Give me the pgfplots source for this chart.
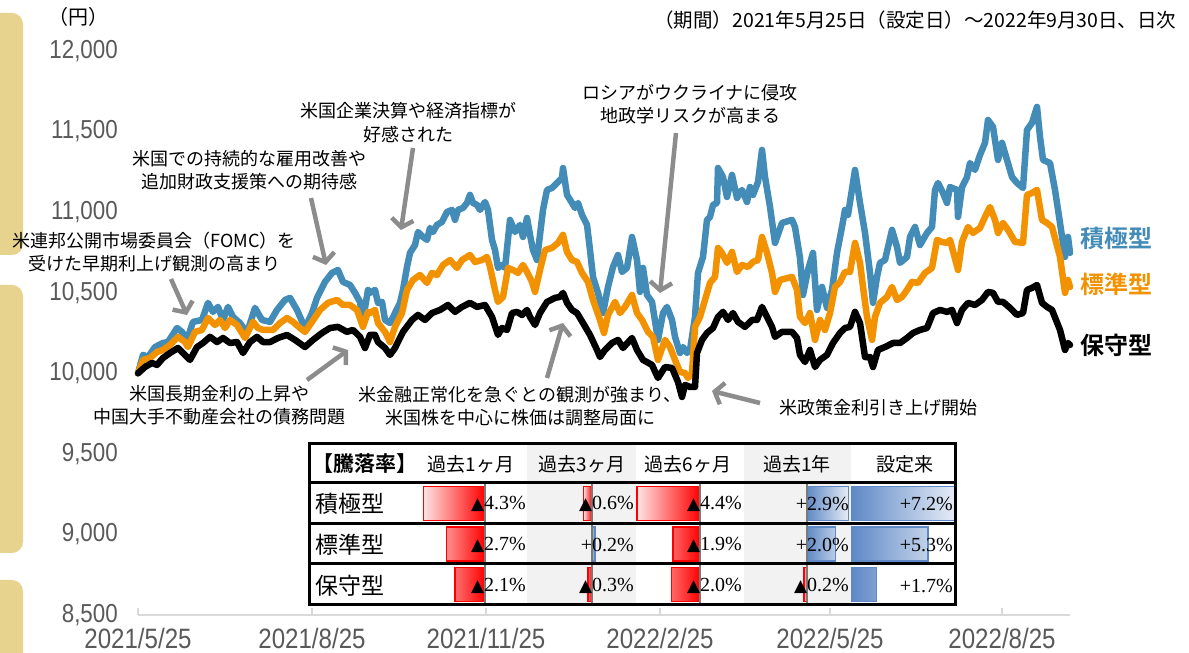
\documentclass[border=0pt]{standalone}
\usepackage{pgfplots}
\pgfplotsset{compat=1.18}
\usetikzlibrary{arrows.meta}
\usepackage{fontspec}
\setmainfont{Noto Sans CJK JP}[BoldFont={Noto Sans CJK JP Bold}]
\newfontfamily\tickfont[FakeStretch=0.86]{Liberation Sans}
\newfontfamily\numfont{Liberation Serif}
\newfontfamily\dejavu{DejaVu Sans}
\definecolor{cblue}{HTML}{438CB8}
\definecolor{corange}{HTML}{F39200}
\definecolor{arrowgray}{HTML}{8C8C8C}
\definecolor{tickgray}{HTML}{595959}
\definecolor{axisgray}{HTML}{D9D9D9}
\definecolor{tan}{HTML}{E8D38E}
\definecolor{bggray}{HTML}{F2F2F2}
\definecolor{zerogray}{HTML}{7A7A7A}
\definecolor{barblue}{HTML}{5F89C6}
\definecolor{barbluel}{HTML}{E6ECF6}
\definecolor{barred}{HTML}{FF0000}
\definecolor{barredl}{HTML}{FFE3E3}
\newcommand{\fs}[1]{\fontsize{#1}{#1}\selectfont}
\newcommand{\tri}{{\dejavu\fs{17}▲}}
\pgfplotsset{
  tcol/.style={anchor=south west, scale only axis, height=122pt, ymin=0.5, ymax=3.5, hide axis, clip=false},
  redbar/.style={xbar, bar width=34pt, draw=barred, line width=1.6pt, left color=barredl, right color=barred},
  bluebar/.style={xbar, bar width=34pt, draw=barblue, line width=1.6pt, left color=barblue, right color=barbluel},
}
\begin{document}
\begin{tikzpicture}
\path[use as bounding box] (0pt,0pt) rectangle (1189pt,653pt);
\begin{scope}[x=1pt,y=-1pt,shift={(0pt,653pt)}]
  \fill[tan, rounded corners=11pt] (-30,13) rectangle (23,255);
  \fill[tan, rounded corners=11pt] (-30,285) rectangle (23,553);
  \fill[tan, rounded corners=11pt] (-30,580) rectangle (23,700);
  \fill[bggray] (527,444) rectangle (636,605);
  \fill[bggray] (744,444) rectangle (851,605);
\end{scope}

\begin{axis}[
  at={(138pt,38pt)}, anchor=south west, scale only axis,
  width=932pt, height=564pt,
  xmin=138, xmax=1070, ymin=8500, ymax=12000,
  scaled y ticks=false, scaled x ticks=false,
  axis x line*=bottom, axis y line*=left,
  x axis line style={draw=axisgray, line width=2pt, -},
  y axis line style={draw=none, -},
  xtick={138,312,486,660,830,1002},
  xticklabels={2021/5/25,2021/8/25,2021/11/25,2022/2/25,2022/5/25,2022/8/25},
  ytick={8500,9000,9500,10000,10500,11000,11500,12000},
  yticklabels={{8,500},{9,000},{9,500},{10,000},{10,500},{11,000},{11,500},{12,000}},
  xtick style={draw=axisgray, line width=1.5pt},
  ytick style={draw=none},
  major tick length=7pt, xtick align=inside,
  xticklabel style={font=\tickfont\fs{28}, text=tickgray, inner sep=1pt, yshift=-12pt},
  yticklabel style={font=\tickfont\fs{26}, text=tickgray, inner sep=1pt, xshift=-19pt},
  clip=false,
]
\addplot[cblue, line width=6.5pt, line join=round, line cap=round] coordinates {
(138,10000) (143,10114) (148,10101) (155,10163) (163,10188) (168,10194) (177,10281) (182,10257) (187,10207) (193,10319) (202,10331) (208,10437) (213,10381) (218,10412) (223,10331) (228,10412) (233,10350) (240,10312) (247,10250) (255,10406) (262,10331) (270,10319) (277,10393) (285,10455) (290,10468) (297,10393) (305,10281) (312,10374) (317,10468) (325,10567) (332,10623) (338,10641) (343,10567) (350,10548) (355,10499) (360,10443) (363,10331) (368,10517) (370,10499) (375,10517) (378,10437) (382,10443) (385,10331) (390,10312) (395,10374) (400,10437) (403,10517) (407,10660) (410,10747) (415,10796) (418,10877) (423,10846) (427,10828) (430,10902) (433,10877) (437,10921) (442,10939) (447,11001) (452,11014) (455,10952) (458,11014) (463,11026) (467,11057) (470,11107) (473,11057) (477,11045) (480,11014) (485,11063) (488,11014) (492,10828) (495,10765) (498,10654) (502,10672) (505,10654) (510,10952) (515,10877) (520,10921) (523,10846) (527,10964) (530,10859) (533,10765) (537,10703) (540,10859) (543,11014) (547,11138) (552,11150) (557,11181) (562,11212) (563,11274) (567,11107) (572,11057) (575,11026) (578,11057) (582,10983) (587,10921) (590,10765) (593,10598) (598,10499) (603,10374) (608,10536) (613,10660) (618,10734) (622,10629) (627,10654) (632,10846) (637,10703) (640,10505) (643,10654) (647,10486) (652,10443) (658,10207) (663,10374) (667,10412) (672,10331) (675,10226) (680,10126) (683,10163) (687,10126) (690,10145) (695,10350) (698,10623) (703,10722) (707,10952) (710,10970) (713,11045) (717,11057) (718,11274) (723,11218) (727,11094) (732,11231) (737,11088) (742,11138) (747,11063) (750,11156) (753,11107) (758,11187) (762,11386) (765,11218) (770,11032) (775,10809) (782,10933) (792,10952) (795,10908) (800,10716) (803,10486) (808,10641) (813,10747) (817,10393) (822,10536) (827,10406) (832,10517) (837,10747) (842,10908) (845,11014) (848,10983) (855,11262) (860,11057) (865,10871) (870,10623) (873,10437) (877,10598) (880,10685) (885,10703) (892,10890) (897,10784) (900,10685) (907,10722) (910,10846) (915,10908) (920,10796) (927,10871) (932,10908) (935,11138) (938,11181) (943,11119) (947,11057) (950,11156) (957,11138) (958,10970) (962,11156) (967,11218) (970,11305) (975,11262) (980,11355) (985,11430) (988,11572) (993,11529) (998,11324) (1002,11430) (1007,11324) (1012,11218) (1017,11181) (1023,11150) (1027,11510) (1032,11554) (1037,11653) (1040,11467) (1043,11324) (1050,11305) (1055,11138) (1060,10933) (1065,10722) (1068,10846) (1070,10747)
};
\addplot[corange, line width=6.5pt, line join=round, line cap=round] coordinates {
(138,10000) (143,10083) (150,10095) (157,10132) (163,10145) (170,10176) (178,10226) (185,10194) (188,10163) (195,10257) (202,10269) (208,10343) (215,10300) (220,10331) (225,10281) (230,10331) (237,10300) (245,10219) (253,10319) (258,10281) (263,10269) (273,10269) (280,10312) (287,10343) (293,10319) (300,10281) (305,10257) (312,10319) (320,10393) (328,10437) (337,10455) (343,10424) (350,10424) (357,10393) (363,10288) (368,10381) (370,10374) (375,10393) (378,10312) (385,10257) (390,10194) (395,10288) (402,10374) (407,10517) (413,10579) (420,10610) (427,10561) (432,10623) (437,10610) (443,10672) (450,10703) (457,10654) (462,10703) (470,10734) (475,10691) (482,10703) (487,10722) (490,10660) (495,10517) (498,10443) (503,10474) (508,10654) (513,10641) (518,10623) (523,10672) (527,10629) (532,10567) (535,10505) (540,10641) (545,10765) (552,10778) (558,10809) (563,10859) (567,10753) (572,10703) (577,10691) (582,10623) (588,10567) (593,10455) (600,10331) (604,10250) (608,10362) (615,10443) (620,10374) (625,10412) (632,10486) (637,10374) (642,10331) (648,10257) (653,10226) (658,10083) (665,10207) (670,10163) (675,10083) (680,10008) (685,10002) (688,9971) (692,10002) (695,10288) (700,10350) (705,10455) (710,10561) (715,10598) (718,10778) (722,10747) (727,10685) (732,10753) (737,10629) (742,10672) (748,10660) (753,10691) (758,10703) (762,10846) (767,10747) (772,10623) (775,10505) (780,10579) (792,10598) (797,10517) (800,10350) (805,10312) (810,10374) (815,10207) (820,10331) (825,10269) (830,10374) (835,10536) (840,10567) (845,10629) (850,10629) (855,10809) (860,10685) (863,10536) (867,10350) (872,10207) (875,10350) (880,10437) (887,10474) (892,10536) (897,10455) (902,10474) (907,10517) (912,10567) (918,10561) (925,10623) (932,10654) (937,10828) (942,10815) (947,10809) (950,10828) (958,10641) (962,10815) (968,10908) (973,10871) (980,10902) (985,10970) (990,11032) (995,10952) (998,10871) (1003,10933) (1008,10890) (1015,10815) (1023,10809) (1027,11107) (1032,11119) (1037,11138) (1042,10952) (1047,10933) (1052,10908) (1060,10722) (1065,10499) (1068,10579) (1070,10536)
};
\addplot[black, line width=6.5pt, line join=round, line cap=round] coordinates {
(138,10000) (145,10039) (152,10064) (157,10052) (163,10095) (170,10126) (178,10157) (183,10126) (190,10083) (197,10163) (203,10188) (210,10226) (217,10194) (223,10219) (230,10188) (237,10194) (243,10126) (250,10194) (257,10226) (263,10194) (270,10194) (278,10219) (287,10238) (295,10207) (305,10163) (313,10207) (322,10250) (330,10281) (338,10288) (347,10257) (353,10269) (360,10226) (365,10157) (370,10238) (375,10238) (378,10194) (385,10157) (390,10114) (395,10157) (403,10257) (412,10331) (418,10362) (425,10331) (432,10374) (440,10393) (448,10424) (455,10381) (462,10412) (470,10437) (477,10412) (485,10424) (492,10350) (498,10238) (502,10281) (507,10269) (512,10374) (517,10381) (522,10362) (527,10393) (530,10350) (535,10300) (540,10374) (547,10443) (555,10468) (560,10474) (563,10499) (567,10437) (572,10393) (577,10374) (583,10312) (590,10238) (597,10145) (600,10101) (605,10145) (612,10188) (618,10207) (623,10157) (632,10219) (637,10145) (643,10083) (652,10052) (658,9971) (665,10039) (672,10033) (678,9946) (682,9853) (685,9928) (690,9915) (695,9915) (697,10126) (702,10207) (707,10250) (713,10281) (718,10350) (723,10381) (728,10331) (733,10374) (738,10319) (745,10288) (752,10331) (757,10331) (762,10412) (767,10350) (772,10288) (775,10226) (782,10257) (792,10257) (797,10219) (800,10114) (805,10070) (810,10145) (815,10039) (820,10083) (827,10114) (833,10188) (840,10250) (845,10281) (850,10288) (855,10381) (860,10312) (865,10101) (870,10101) (873,10039) (878,10145) (885,10163) (893,10188) (900,10188) (907,10219) (913,10250) (920,10269) (927,10281) (933,10374) (940,10393) (947,10381) (952,10393) (957,10312) (962,10393) (968,10437) (975,10424) (982,10455) (988,10505) (993,10499) (998,10443) (1003,10443) (1010,10406) (1017,10362) (1023,10374) (1027,10517) (1032,10530) (1037,10548) (1042,10437) (1047,10412) (1052,10393) (1060,10269) (1065,10145) (1068,10188) (1070,10176)
};
\end{axis}

% table columns
\begin{axis}[tcol, at={(420pt,48pt)}, width=107pt, xmin=-4.545, xmax=2.937]
\addplot[redbar] coordinates {(-4.3,3) (-2.7,2) (-2.1,1)};
\end{axis}
\begin{axis}[tcol, at={(527pt,48pt)}, width=109pt, xmin=-4.545, xmax=3.077]
\addplot[redbar] coordinates {(-0.6,3) (-0.3,1)};
\addplot[bluebar] coordinates {(0.2,2)};
\end{axis}
\begin{axis}[tcol, at={(636pt,48pt)}, width=108pt, xmin=-4.476, xmax=3.077]
\addplot[redbar] coordinates {(-4.4,3) (-1.9,2) (-2.0,1)};
\end{axis}
\begin{axis}[tcol, at={(744pt,48pt)}, width=107pt, xmin=-4.406, xmax=3.077]
\addplot[bluebar] coordinates {(2.9,3) (2.0,2)};
\addplot[redbar] coordinates {(-0.2,1)};
\end{axis}
\begin{axis}[tcol, at={(851pt,48pt)}, width=104pt, xmin=-0.07, xmax=7.203]
\addplot[bluebar] coordinates {(7.2,3) (5.3,2) (1.7,1)};
\end{axis}

\begin{scope}[x=1pt,y=-1pt,shift={(0pt,653pt)}]
  % zero lines
  \foreach \zx in {485,592,700,807} {\draw[zerogray, line width=2.5pt] (\zx,483) -- (\zx,605);}
  % table frame
  \draw[line width=3pt] (309,444) rectangle (955,605);
  \draw[line width=3pt] (309,483) -- (955,483);
  \draw[line width=3pt] (309,524) -- (955,524);
  \draw[line width=3pt] (309,564) -- (955,564);
  % header
  \node[font=\bfseries\fs{21}] at (365,464) {【騰落率】};
  \node[font=\fs{19}] at (471,464) {過去1ヶ月};
  \node[font=\fs{19}] at (582,464) {過去3ヶ月};
  \node[font=\fs{19}] at (688,464) {過去6ヶ月};
  \node[font=\fs{19}] at (797,464) {過去1年};
  \node[font=\fs{19}] at (905,464) {設定来};
  % row labels
  \node[font=\fs{23}, anchor=west] at (312,504) {積極型};
  \node[font=\fs{23}, anchor=west] at (312,545) {標準型};
  \node[font=\fs{23}, anchor=west] at (312,586) {保守型};
  % values
  \tikzset{val/.style={font=\numfont\fs{20}, anchor=east, inner sep=0pt}}
  \node[val] at (526,504) {\tri4.3\%};
  \node[val] at (526,545) {\tri2.7\%};
  \node[val] at (526,586) {\tri2.1\%};
  \node[val] at (634,504) {\tri0.6\%};
  \node[val] at (634,545) {+0.2\%};
  \node[val] at (634,586) {\tri0.3\%};
  \node[val] at (742,504) {\tri4.4\%};
  \node[val] at (742,545) {\tri1.9\%};
  \node[val] at (742,586) {\tri2.0\%};
  \node[val] at (849,504) {+2.9\%};
  \node[val] at (849,545) {+2.0\%};
  \node[val] at (849,586) {\tri0.2\%};
  \node[val] at (953,504) {+7.2\%};
  \node[val] at (953,545) {+5.3\%};
  \node[val] at (953,586) {+1.7\%};
  % titles
  \node[font=\fs{20}] at (78,17) {（円）};
  \node[font=\fs{19.5}, anchor=east] at (1180,20) {（期間）2021年5月25日（設定日）～2022年9月30日、日次};
  % series labels
  \node[font=\bfseries\fs{24}, text=cblue, anchor=west] at (1077,238) {積極型};
  \node[font=\bfseries\fs{24}, text=corange, anchor=west] at (1077,284) {標準型};
  \node[font=\bfseries\fs{24}, text=black, anchor=west] at (1077,345) {保守型};
  % annotations
  \tikzset{ann/.style={font=\fontsize{18}{23.5}\selectfont, align=center}}
  \node[ann] at (408,122.5) {米国企業決算や経済指標が\\好感された};
  \node[ann] at (249,170) {米国での持続的な雇用改善や\\追加財政支援策への期待感};
  \node[ann] at (154,252) {米連邦公開市場委員会（FOMC）を\\受けた早期利上げ観測の高まり};
  \node[ann] at (690,104) {ロシアがウクライナに侵攻\\地政学リスクが高まる};
  \node[ann] at (219,405) {米国長期金利の上昇や\\中国大手不動産会社の債務問題};
  \node[ann] at (520,406) {米金融正常化を急ぐとの観測が強まり、\\米国株を中心に株価は調整局面に};
  \node[ann] at (878,408) {米政策金利引き上げ開始};
  % arrows
  \tikzset{arr/.style={arrowgray, line width=4.5pt, -{Straight Barb[length=8pt, width=22pt]}}}
  \draw[arr] (171,279) -- (187,315);
  \draw[arr] (311,198) -- (326,265);
  \draw[arr] (413,148) -- (401,230);
  \draw[arr] (676,133) -- (660,293);
  \draw[arr] (307,380) -- (348,350);
  \draw[arr] (547,378) -- (563,323);
  \draw[arr] (760,403) -- (712,391);
\end{scope}
\end{tikzpicture}
\end{document}
